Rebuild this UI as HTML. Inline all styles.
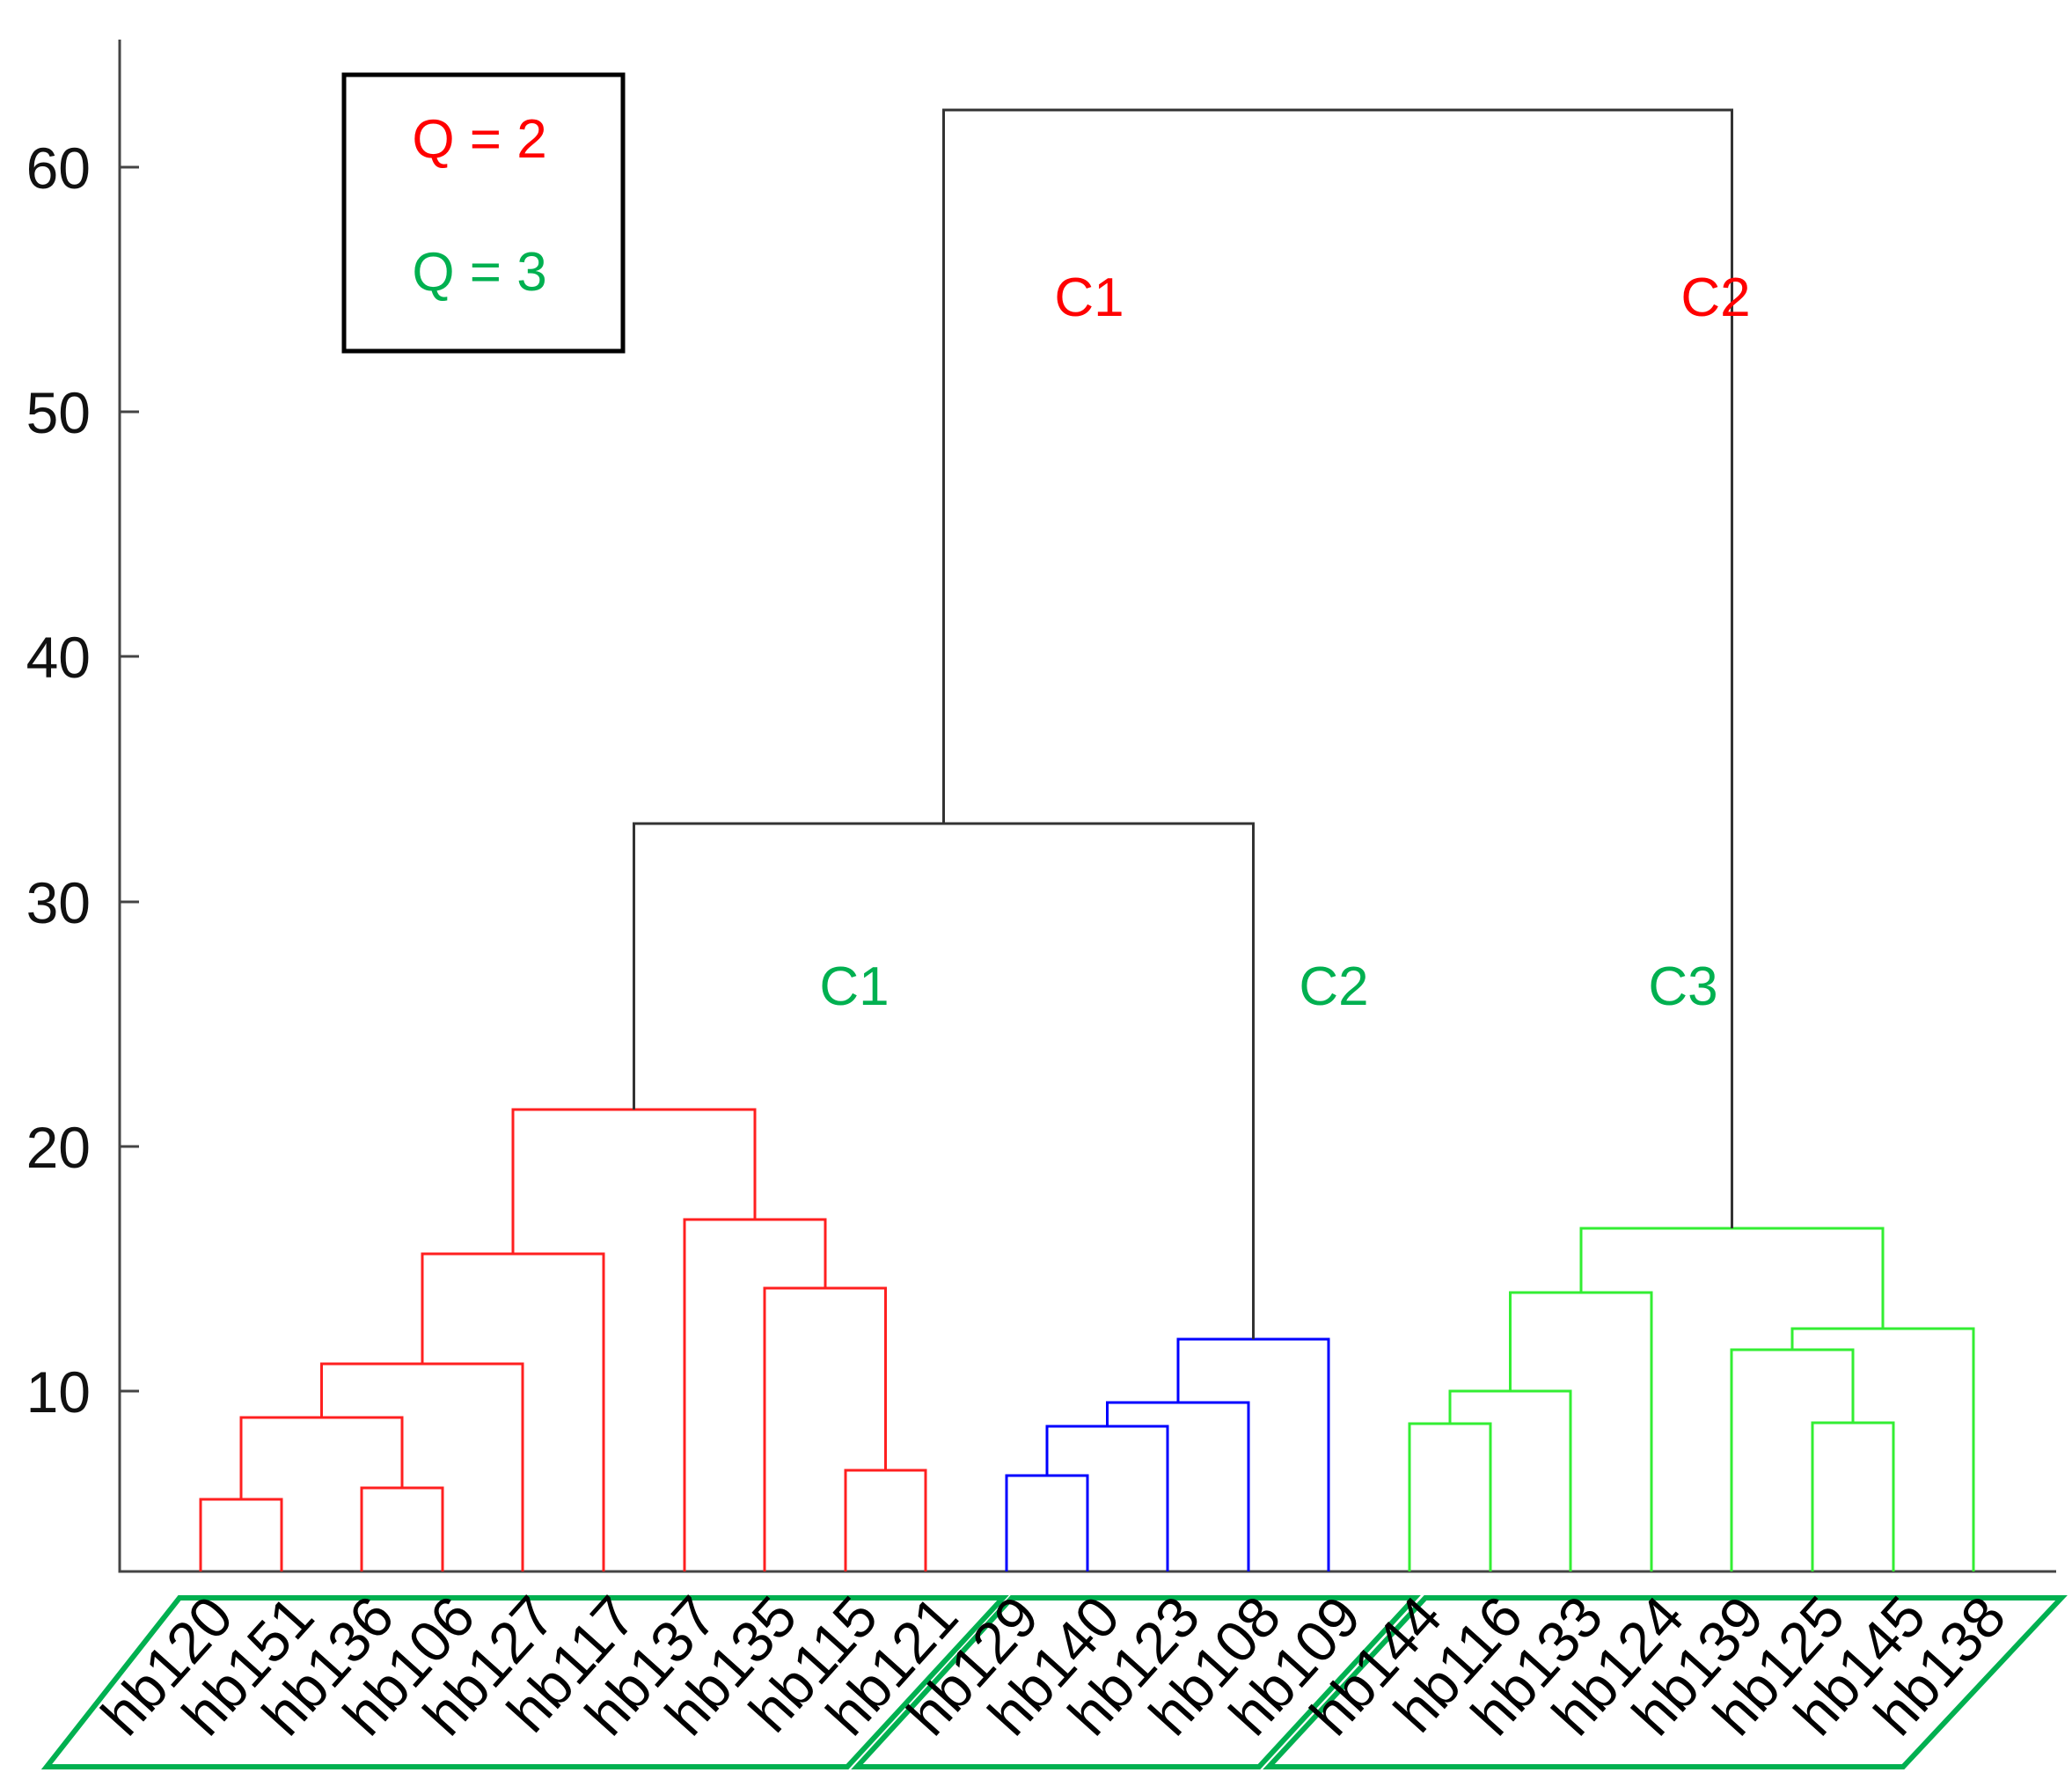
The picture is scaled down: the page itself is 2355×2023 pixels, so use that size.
<!DOCTYPE html>
<html><head><meta charset="utf-8"><style>
html,body{margin:0;padding:0;background:#fff;}
svg{display:block;}
text{font-family:"Liberation Sans",sans-serif;}
</style></head><body>
<svg width="2355" height="2023" viewBox="0 0 2355 2023" xmlns="http://www.w3.org/2000/svg">
<g stroke="#444" stroke-width="3" fill="none">
<path d="M136 45 V1786 H2337"/>
<path d="M136 190 h22 M136 468 h22 M136 746 h22 M136 1025 h22 M136 1303 h22 M136 1581 h22"/>
</g>
<g font-size="66" fill="#111" text-anchor="end">
<text x="103" y="214">60</text>
<text x="103" y="492">50</text>
<text x="103" y="770">40</text>
<text x="103" y="1049">30</text>
<text x="103" y="1327">20</text>
<text x="103" y="1605">10</text>
</g>
<g stroke="#ff2020" stroke-width="3" fill="none">
<path d="M228 1786 V1704 H320 V1786"/>
<path d="M411 1786 V1691 H503 V1786"/>
<path d="M274 1704 V1611 H457 V1691"/>
<path d="M365.5 1611 V1550 H594 V1786"/>
<path d="M480 1550 V1425 H686 V1786"/>
<path d="M961 1786 V1671 H1052 V1786"/>
<path d="M869 1786 V1464 H1006.5 V1671"/>
<path d="M778 1786 V1386 H938 V1464"/>
<path d="M583 1425 V1261 H858 V1386"/>
</g>
<g stroke="#0000ff" stroke-width="3" fill="none">
<path d="M1144 1786 V1677 H1236 V1786"/>
<path d="M1190 1677 V1621 H1327 V1786"/>
<path d="M1258.5 1621 V1594 H1419 V1786"/>
<path d="M1339 1594 V1522 H1510 V1786"/>
</g>
<g stroke="#33ee33" stroke-width="3" fill="none">
<path d="M1602 1786 V1618 H1694 V1786"/>
<path d="M1648 1618 V1581 H1785 V1786"/>
<path d="M1716.5 1581 V1469 H1877 V1786"/>
<path d="M2060 1786 V1617 H2152 V1786"/>
<path d="M1968 1786 V1534 H2106 V1617"/>
<path d="M2037 1534 V1510 H2243 V1786"/>
<path d="M1797 1469 V1396 H2140 V1510"/>
</g>
<g stroke="#333" stroke-width="3" fill="none">
<path d="M720.5 1261 V936 H1424.5 V1522"/>
<path d="M1072.5 936 V125 H1968.5 V1396"/>
</g>
<rect x="391" y="85" width="317" height="314" fill="none" stroke="#000" stroke-width="5"/>
<text x="545" y="179" font-size="62" fill="#ff0000" text-anchor="middle">Q = 2</text>
<text x="545" y="330" font-size="62" fill="#00b050" text-anchor="middle">Q = 3</text>
<g font-size="62" text-anchor="middle">
<text x="1238" y="359" fill="#ff0000">C1</text>
<text x="1950" y="359" fill="#ff0000">C2</text>
<text x="971" y="1142" fill="#00b050">C1</text>
<text x="1516" y="1142" fill="#00b050">C2</text>
<text x="1913" y="1142" fill="#00b050">C3</text>
</g>
<g stroke="#00b050" stroke-width="6" fill="none">
<polygon points="204,1816 1140,1816 963,2008 53,2008"/>
<polygon points="1150,1816 1608,1816 1431,2008 974,2008"/>
<polygon points="1620,1816 2343,1816 2163,2008 1442,2008"/>
</g>
<g font-size="66" fill="#000" text-anchor="end">
<text transform="translate(268,1840) rotate(-48)">hb120</text>
<text transform="translate(360,1840) rotate(-48)">hb151</text>
<text transform="translate(451,1840) rotate(-48)">hb136</text>
<text transform="translate(543,1840) rotate(-48)">hb106</text>
<text transform="translate(634,1840) rotate(-48)">hb127</text>
<text transform="translate(726,1840) rotate(-48)">hb117</text>
<text transform="translate(818,1840) rotate(-48)">hb137</text>
<text transform="translate(909,1840) rotate(-48)">hb135</text>
<text transform="translate(1001,1840) rotate(-48)">hb115</text>
<text transform="translate(1092,1840) rotate(-48)">hb121</text>
<text transform="translate(1184,1840) rotate(-48)">hb129</text>
<text transform="translate(1276,1840) rotate(-48)">hb140</text>
<text transform="translate(1367,1840) rotate(-48)">hb123</text>
<text transform="translate(1459,1840) rotate(-48)">hb108</text>
<text transform="translate(1550,1840) rotate(-48)">hb109</text>
<text transform="translate(1642,1840) rotate(-48)">hb144</text>
<text transform="translate(1734,1840) rotate(-48)">hb116</text>
<text transform="translate(1825,1840) rotate(-48)">hb133</text>
<text transform="translate(1917,1840) rotate(-48)">hb124</text>
<text transform="translate(2008,1840) rotate(-48)">hb139</text>
<text transform="translate(2100,1840) rotate(-48)">hb125</text>
<text transform="translate(2192,1840) rotate(-48)">hb145</text>
<text transform="translate(2283,1840) rotate(-48)">hb138</text>
</g>
</svg>
</body></html>
